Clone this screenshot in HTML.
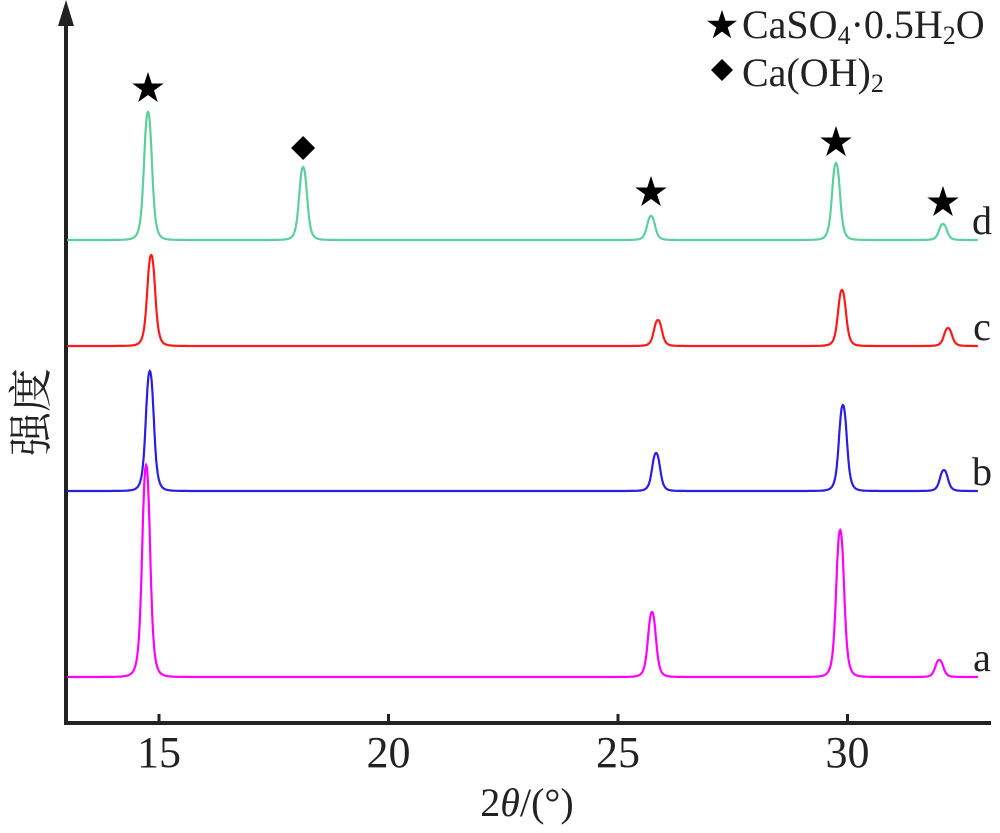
<!DOCTYPE html>
<html><head><meta charset="utf-8"><style>
html,body{margin:0;padding:0;background:#fff;}
svg{display:block;font-family:"Liberation Serif","Noto Serif CJK SC",serif;}
</style></head><body>
<svg id="chart" width="1000" height="833" viewBox="0 0 1000 833" xmlns="http://www.w3.org/2000/svg">
<g id="axes">
<line x1="66" y1="14" x2="66" y2="724" stroke="#222" stroke-width="4"/>
<polygon points="66,0 58,26 74,26" fill="#222"/>
<line x1="64" y1="723" x2="991" y2="723" stroke="#222" stroke-width="4"/>
</g>
<g id="ticks"></g>
<g id="series"></g>
<g id="markers"></g>
<text x="527" y="816" font-size="40" text-anchor="middle" fill="#222">2<tspan font-style="italic">θ</tspan>/(°)</text>
<text transform="translate(46,412) rotate(-90)" font-size="44" text-anchor="middle" fill="#222">强度</text>
<g>
<text x="722" y="36" font-size="32" text-anchor="middle" fill="#000">★</text>
<text x="742" y="38" font-size="40" fill="#222">CaSO<tspan font-size="26" dy="6">4</tspan><tspan dy="-6">·0.5H</tspan><tspan font-size="26" dy="6">2</tspan><tspan dy="-6">O</tspan></text>
<polygon points="722,59 733,70 722,81 711,70" fill="#000"/>
<text x="742" y="86" font-size="40" fill="#222">Ca(OH)<tspan font-size="26" dy="6">2</tspan></text>
</g>
</svg>
<script>
const tickValues = [15, 20, 25, 30];
const tickLabels = ["15", "20", "25", "30"];
const seriesNames = ["a", "b", "c", "d"];
const seriesColors = ["#ff00ff", "#2a1fe0", "#ff1a1a", "#5ccf9c"];
const seriesBaselines = [0, 0, 0, 0];
const peaksA = [[14.72, 212], [25.74, 65], [29.84, 147], [32.0, 17]];
const peaksB = [[14.8, 120], [25.83, 38], [29.9, 86], [32.1, 21]];
const peaksC = [[14.83, 91], [25.87, 26], [29.88, 56], [32.19, 18]];
const peaksD = [[14.76, 128], [18.14, 73], [25.72, 24], [29.75, 77], [32.08, 16]];
const allPeaks = [peaksA, peaksB, peaksC, peaksD];
const phaseMarkers = [["star", 14.76, 152], ["diamond", 18.14, 92], ["star", 25.72, 48], ["star", 29.75, 98], ["star", 32.08, 38]];

const NS = "http://www.w3.org/2000/svg";
const X0 = 159, XS = 45.9;
const xScale = d => X0 + (d - 15) * XS;
const offsets = [677, 491, 346, 240];
const yScale = (i, v) => offsets[i] - v;
const tg = document.getElementById('ticks');
tickValues.forEach((t, k) => {
  const x = xScale(t);
  const l = document.createElementNS(NS, 'line');
  
  
  l.setAttribute('x1', x); l.setAttribute('x2', x);
  l.setAttribute('y1', 723); l.setAttribute('y2', 714);
  l.setAttribute('stroke', '#222'); l.setAttribute('stroke-width', 3);
  tg.appendChild(l);
  const tx = document.createElementNS(NS, 'text');
  
  
  tx.setAttribute('x', x); tx.setAttribute('y', 767);
  tx.setAttribute('font-size', 44); tx.setAttribute('text-anchor', 'middle');
  tx.setAttribute('fill', '#222');
  tx.textContent = tickLabels[k];
  tg.appendChild(tx);
});
const sg = document.getElementById('series');
const xmin = 13.0, xmax = 32.85;
allPeaks.forEach((peaks, i) => {
  let d = '';
  for (let deg = xmin; deg <= xmax; deg += 0.01) {
    let v = seriesBaselines[i];
    peaks.forEach(p => {
      const w = 0.1;
      const u = (deg - p[0]) / w;
      v += p[1] / (1 + u * u * u * u * 0.5 + u * u * 0.5);
    });
    d += (d ? 'L' : 'M') + xScale(deg).toFixed(1) + ',' + yScale(i, v).toFixed(1);
  }
  const path = document.createElementNS(NS, 'path');
  
  
  path.setAttribute('d', d);
  path.setAttribute('fill', 'none');
  path.setAttribute('stroke', seriesColors[i]);
  path.setAttribute('stroke-width', 2.2);
  sg.appendChild(path);
  const lab = document.createElementNS(NS, 'text');
  
  
  lab.setAttribute('x', 982); lab.setAttribute('y', offsets[i] - 6);
  lab.setAttribute('font-size', 40); lab.setAttribute('text-anchor', 'middle');
  lab.setAttribute('fill', '#222');
  lab.textContent = seriesNames[i];
  sg.appendChild(lab);
});
const mg = document.getElementById('markers');
phaseMarkers.forEach(m => {
  const x = xScale(m[1]), y = yScale(3, m[2]);
  if (m[0] === 'star') {
    const t = document.createElementNS(NS, 'text');
    
    
    t.setAttribute('x', x); t.setAttribute('y', y + 12);
    t.setAttribute('font-size', 34); t.setAttribute('text-anchor', 'middle');
    t.setAttribute('fill', '#000');
    t.textContent = '★';
    mg.appendChild(t);
  } else {
    const p = document.createElementNS(NS, 'polygon');
    
    
    p.setAttribute('points', `${x},${y-12} ${x+12},${y} ${x},${y+12} ${x-12},${y}`);
    p.setAttribute('fill', '#000');
    mg.appendChild(p);
  }
});
</script>
</body></html>
